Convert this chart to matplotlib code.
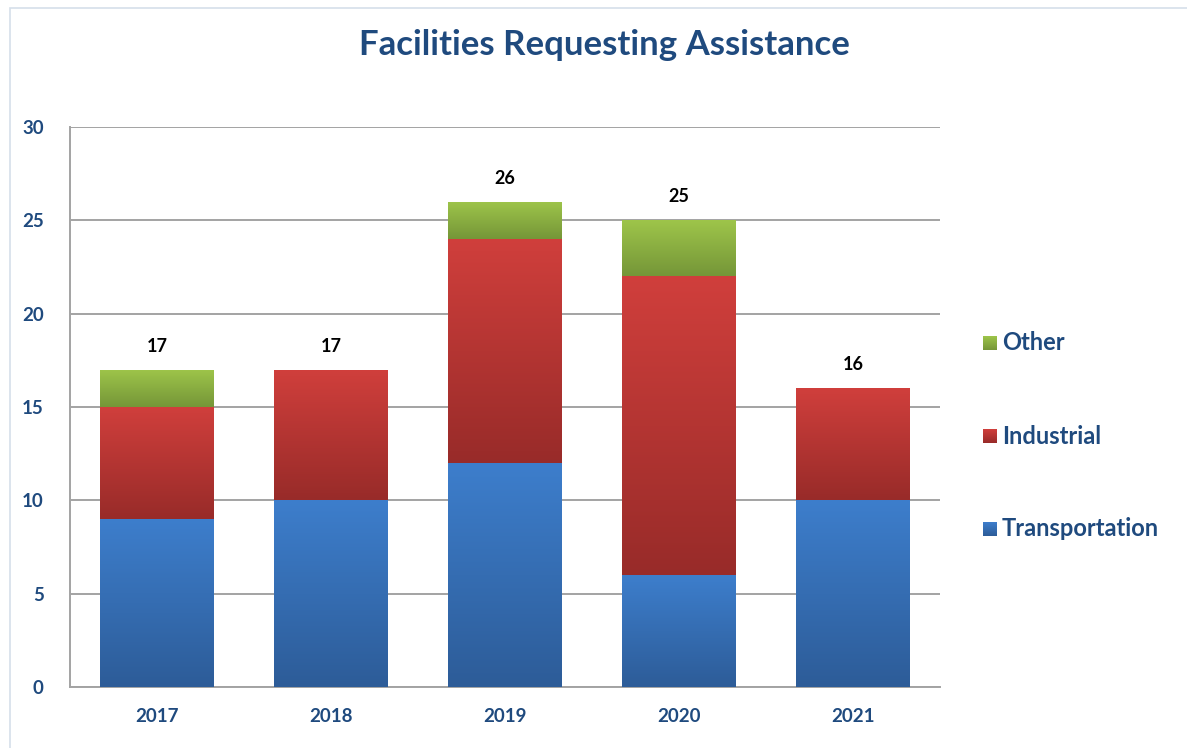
import numpy as np
import matplotlib
matplotlib.use("Agg")
import matplotlib.pyplot as plt
from matplotlib.colors import LinearSegmentedColormap
from matplotlib.patches import Rectangle

# chart data
years = ["2017", "2018", "2019", "2020", "2021"]
transportation = [9, 10, 12, 6, 10]
industrial = [6, 7, 12, 16, 6]
other = [2, 0, 2, 3, 0]
series_names = ["Transportation", "Industrial", "Other"]

# gradient (bottom colour, top colour) per series
grads = {
    "Transportation": ("#2D5C98", "#3D7ECC"),
    "Industrial": ("#982B29", "#D03F3C"),
    "Other": ("#759638", "#9EC54A"),
}
text_blue = "#1F4A7E"
font = ["Lato", "DejaVu Sans"]

fig = plt.figure(figsize=(11.87, 7.48), dpi=100)
W, H = 1187, 748
ax = fig.add_axes([70 / W, 1 - 687 / H, 870 / W, 560 / H])

# faint chart-area border
fig.patches.append(Rectangle((10 / W, -0.1), 1.1, 1 - 8 / H + 0.1, transform=fig.transFigure,
                             fill=False, edgecolor="#D5DFEA", linewidth=1.2))

x = np.arange(len(years))
width = 0.65
grad = np.linspace(0, 1, 256).reshape(-1, 1)

bottoms = np.zeros(len(years))
for name, vals in zip(series_names, [transportation, industrial, other]):
    cmap = LinearSegmentedColormap.from_list(name, grads[name])
    bars = ax.bar(x, vals, width, bottom=bottoms, color="none", edgecolor="none", zorder=3)
    for rect, v, b in zip(bars, vals, bottoms):
        if v == 0:
            continue
        x0 = rect.get_x()
        im = ax.imshow(grad, extent=[x0, x0 + width, b, b + v], origin="lower",
                       aspect="auto", cmap=cmap, zorder=3, interpolation="bicubic")
        im.set_clip_path(rect)
    bottoms = bottoms + np.array(vals)

totals = bottoms
for xi, t in zip(x, totals):
    ax.annotate(f"{int(t)}", (xi, t), xytext=(0, 17), textcoords="offset points",
                ha="center", va="center", fontsize=13, fontweight="bold",
                family=font, color="black")

ax.set_xlim(-0.5, len(years) - 0.5)
ax.set_ylim(0, 30)
ax.set_yticks(range(0, 31, 5))
ax.set_xticks(x)
ax.set_xticklabels(years)
ax.yaxis.grid(True, color="#A3A3A3", linewidth=1.4, zorder=0)
ax.set_axisbelow(True)
for s in ["top", "right"]:
    ax.spines[s].set_visible(False)
for s in ["left", "bottom"]:
    ax.spines[s].set_color("#A3A3A3")
    ax.spines[s].set_linewidth(1.4)
ax.tick_params(axis="both", length=0, labelsize=13.5, labelcolor=text_blue)
ax.tick_params(axis="y", pad=19)
ax.tick_params(axis="x", pad=15)
for lab in ax.get_xticklabels() + ax.get_yticklabels():
    lab.set_fontweight("bold")
    lab.set_family(font)

fig.text(604 / W, 1 - 45 / H, "Facilities Requesting Assistance", ha="center", va="center",
         fontsize=25, fontweight="bold", family=font, color=text_blue)

# legend with gradient squares
legend_y = {"Other": 343, "Industrial": 436, "Transportation": 529}
for name in ["Other", "Industrial", "Transportation"]:
    yc = legend_y[name]
    sq = fig.add_axes([983 / W, 1 - (yc + 7) / H, 14 / W, 14 / H])
    sq.imshow(grad, origin="lower", aspect="auto",
              cmap=LinearSegmentedColormap.from_list(name, grads[name]))
    sq.set_axis_off()
    fig.text(1002 / W, 1 - yc / H, name, ha="left", va="center", fontsize=17,
             fontweight="bold", family=font, color=text_blue)

fig.savefig("out.png", dpi=100)
